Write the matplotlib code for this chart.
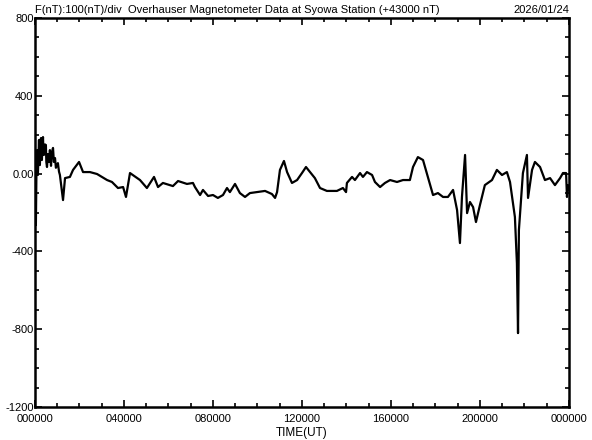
import matplotlib.pyplot as plt
from matplotlib.ticker import MultipleLocator

# traced F values (nT, offset from 43000) against time of day (hours UT)
hours = [0.00, 0.02, 0.04, 0.07, 0.09, 0.11, 0.13, 0.16, 0.18, 0.20, 0.22, 0.25,
         0.27, 0.29, 0.31, 0.34, 0.36, 0.38, 0.40, 0.45, 0.49, 0.51,
         0.54, 0.58, 0.63, 0.67, 0.72, 0.76, 0.81, 0.85, 0.90, 0.94, 1.03, 1.08, 1.12, 1.26, 1.35, 1.57, 1.71, 1.98, 2.16,
         2.47, 2.79, 3.24, 3.46, 3.73, 3.96, 4.09, 4.27, 4.72, 5.03, 5.35, 5.53,
         5.75, 6.20, 6.43, 6.83, 7.10, 7.19, 7.42, 7.55, 7.78, 8.00, 8.22, 8.45,
         8.63, 8.76, 8.99, 9.21, 9.44, 9.66, 9.98, 10.34, 10.65, 10.79, 10.88, 11.01,
         11.19, 11.33, 11.55, 11.78, 12.00, 12.18, 12.36, 12.58, 12.81, 13.12, 13.57, 13.84,
         13.98, 14.02, 14.25, 14.38, 14.61, 14.74, 14.92, 15.15, 15.28, 15.51, 15.73, 15.96,
         16.27, 16.54, 16.85, 16.99, 17.21, 17.44, 17.66, 17.89, 18.11, 18.34, 18.56, 18.79,
         18.97, 19.10, 19.19, 19.33, 19.42, 19.55, 19.69, 19.82, 20.00, 20.22, 20.54, 20.76,
         20.99, 21.21, 21.35, 21.57, 21.66, 21.71, 21.75, 21.93, 22.11, 22.16, 22.34, 22.47,
         22.70, 22.92, 23.15, 23.37, 23.60, 23.73, 23.87, 23.91, 23.96, 24.00]
f_nt = [70, -134, -265, 60, 121, 20, -7, 110, 173, 60, 44, 150,
        183, 90, 70, 150, 188, 110, 96, 150, 147, 60,
        34, 100, 60, 121, 40, 110, 132, 60, 80, 30, 54, 10, -7, -136, -23, -17, 19, 60, 8,
        8, -2, -33, -43, -74, -69, -120, 3, -33, -74, -17, -69,
        -48, -64, -38, -53, -48, -69, -110, -84, -115, -110, -125, -110,
        -74, -95, -53, -100, -120, -100, -95, -89, -105, -125, -95, 19,
        65, 8, -48, -33, 3, 34, 8, -23, -74, -89, -89, -74,
        -95, -48, -17, -33, 3, -17, 8, -7, -43, -69, -48, -33,
        -43, -33, -33, 34, 85, 70, -17, -110, -100, -120, -120, -84,
        -187, -357, -120, 96, -203, -146, -172, -249, -161, -59, -33, 19,
        -7, 8, -43, -223, -460, -820, -290, 3, 96, -125, 19, 60,
        34, -33, -23, -59, -23, 3, 3, -120, -59, -84]

x_ticks = [0, 4, 8, 12, 16, 20, 24]
x_labels = ["000000", "040000", "080000", "120000", "160000", "200000", "000000"]
y_ticks = [-1200, -800, -400, 0, 400, 800]
y_labels = ["-1200", "-800", "-400", "0.00", "400", "800"]

plt.rcParams['font.family'] = ['Liberation Sans', 'DejaVu Sans']

fig = plt.figure(figsize=(5.92, 4.40), dpi=100)
ax = fig.add_axes([0.0591, 0.075, 0.902, 0.884])

ax.plot(hours, f_nt, color="black", linewidth=1.6)

ax.set_xlim(0, 24)
ax.set_ylim(-1200, 800)
ax.set_xticks(x_ticks)
ax.set_xticklabels(x_labels)
ax.set_yticks(y_ticks)
ax.set_yticklabels(y_labels)
ax.xaxis.set_minor_locator(MultipleLocator(1))
ax.yaxis.set_minor_locator(MultipleLocator(100))

ax.tick_params(which="both", direction="in", top=True, right=True,
               width=1.2, labelsize=8)
ax.tick_params(axis="y", pad=1)
ax.tick_params(axis="x", pad=5)
ax.tick_params(which="major", length=5)
ax.tick_params(which="minor", length=3)
for sp in ax.spines.values():
    sp.set_linewidth(1.8)

ax.set_xlabel("TIME(UT)", fontsize=8.5, labelpad=2)
ax.text(0.0, 1.008, "F(nT):100(nT)/div  Overhauser Magnetometer Data at Syowa Station (+43000 nT)",
        transform=ax.transAxes, ha="left", va="bottom", fontsize=8)
ax.text(1.0, 1.008, "2026/01/24", transform=ax.transAxes, ha="right", va="bottom", fontsize=8)

fig.savefig("out.png", dpi=100)
